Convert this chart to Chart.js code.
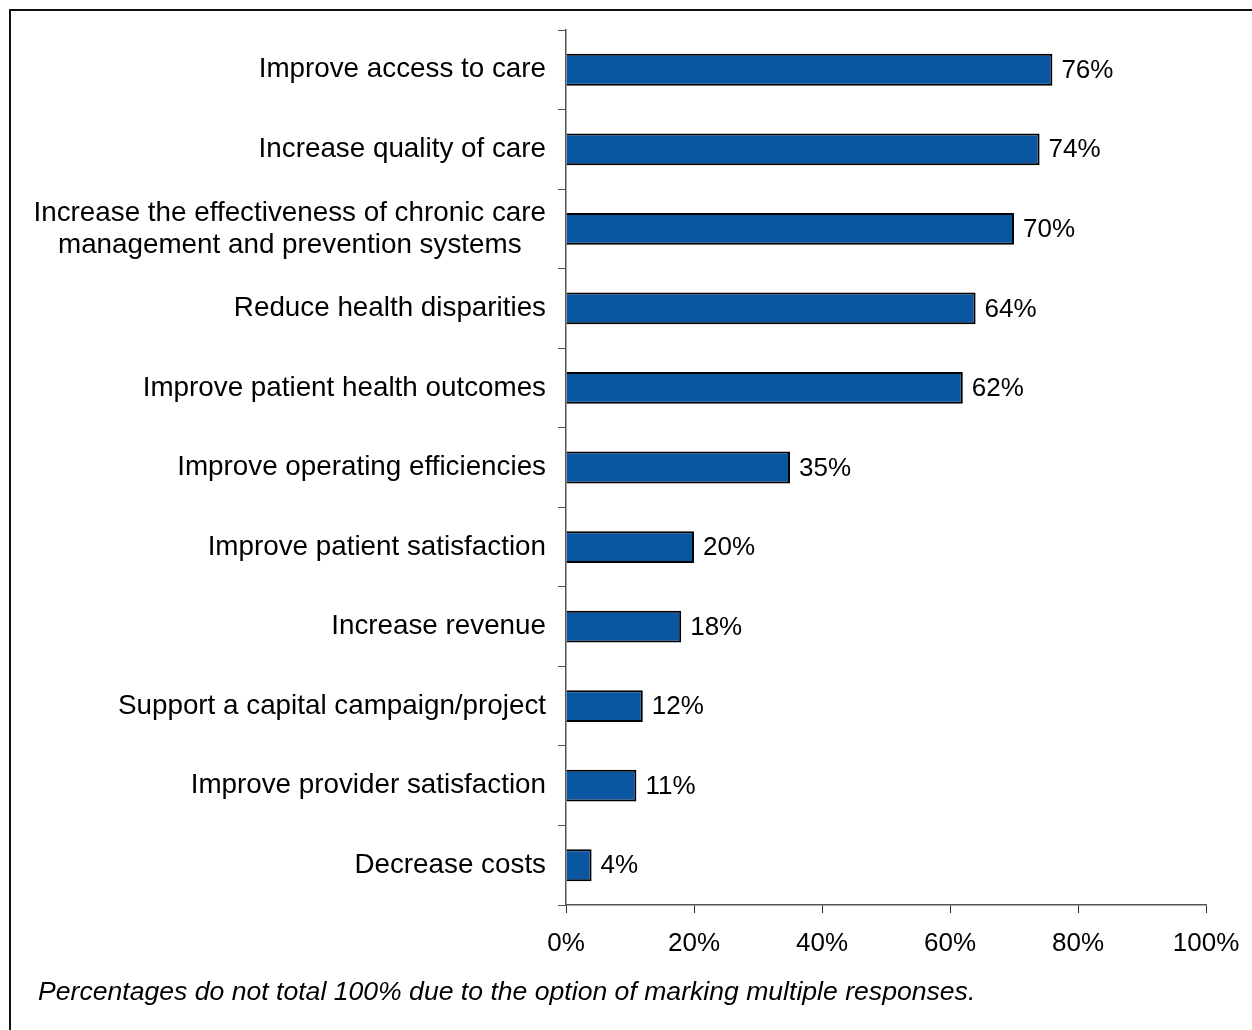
<!DOCTYPE html>
<meta charset="utf-8">
<style>
	body { margin: 0; background: #fff; overflow: hidden; }
	#frame { position: absolute; left: 9px; top: 9px; width: 1300px; height: 1100px; border: 2px solid #111; }
	#wrap { position: absolute; left: 0; top: 0; width: 1252px; height: 1030px; }
	#note { position: absolute; left: 38px; top: 976px; font: italic 26.6px "Liberation Sans", Arial, sans-serif; color: #000; white-space: nowrap; }
</style>
<body>

	<script src="https://cdn.jsdelivr.net/npm/chart.js@4/dist/chart.umd.min.js"></script>

	<div id="frame"></div>
	<div id="wrap">
		<canvas id="goalsChart"></canvas>
	</div>
	<div id="note">Percentages do not total 100% due to the option of marking multiple responses.</div>

	<script>
		var categories = [
			"Improve access to care",
			"Increase quality of care",
			["Increase the effectiveness of chronic care", "management and prevention systems"],
			"Reduce health disparities",
			"Improve patient health outcomes",
			"Improve operating efficiencies",
			"Improve patient satisfaction",
			"Increase revenue",
			"Support a capital campaign/project",
			"Improve provider satisfaction",
			"Decrease costs"
		];
		var percents = [76, 74, 70, 64, 62, 35, 20, 18, 12, 11, 4];
		var xTicks = [0, 20, 40, 60, 80, 100];

		var FONT = '"Liberation Sans", Arial, sans-serif';

		// category labels (multi-line ones centred on each other) and value labels
		var textPlugin = {
			id: 'textPlugin',
			afterDraw: function(chart) {
				var ctx = chart.ctx;
				var yScale = chart.scales.y;
				ctx.save();
				ctx.fillStyle = '#000';
				ctx.textBaseline = 'middle';

				ctx.font = '27.8px ' + FONT;
				var right = yScale.right - 20;
				categories.forEach(function(label, i) {
					var y = yScale.getPixelForValue(i);
					if (Array.isArray(label)) {
						var w = Math.max.apply(null, label.map(function(l) { return ctx.measureText(l).width; }));
						var cx = right - w / 2;
						ctx.textAlign = 'center';
						var lh = 32;
						label.forEach(function(l, j) {
							ctx.fillText(l, cx, y + (j - (label.length - 1) / 2) * lh);
						});
					} else {
						ctx.textAlign = 'right';
						ctx.fillText(label, right, y);
					}
				});

				ctx.font = '26px ' + FONT;
				ctx.textAlign = 'left';
				var meta = chart.getDatasetMeta(0);
				meta.data.forEach(function(bar, i) {
					ctx.fillText(percents[i] + '%', bar.x + 9, bar.y + 1);
				});
				ctx.restore();
			}
		};

		var ctx = document.getElementById("goalsChart");
		var myChart = new Chart(ctx, {
			type: 'bar',
			data: {
				labels: categories,
				datasets: [{
					data: percents,
					backgroundColor: '#0B56A1',
					borderColor: '#000',
					borderWidth: 2,
					barPercentage: 0.4,
					categoryPercentage: 1
				}]
			},
			options: {
				indexAxis: 'y',
				responsive: true,
				maintainAspectRatio: false,
				animation: false,
				layout: { padding: { top: 30, right: 46, bottom: 0, left: 0 } },
				plugins: {
					legend: { display: false },
					tooltip: { enabled: false }
				},
				scales: {
					x: {
						min: 0,
						max: 100,
						afterBuildTicks: function(scale) {
							scale.ticks = xTicks.map(function(v) { return { value: v }; });
						},
						afterFit: function(scale) {
							scale.height = 125;
							scale.paddingLeft = 0;
							scale.paddingRight = 0;
						},
						grid: { drawOnChartArea: false, drawTicks: true, tickLength: 8, color: '#333' },
						border: { color: '#555', width: 1.5 },
						ticks: {
							color: '#000',
							font: { family: FONT, size: 26 },
							padding: 15,
							maxRotation: 0,
							callback: function(v) { return v + '%'; }
						}
					},
					y: {
						afterFit: function(scale) { scale.width = 566; },
						grid: { drawOnChartArea: false, drawTicks: true, tickLength: 8, color: '#555', offset: true },
						border: { color: '#555', width: 1.5 },
						ticks: { display: false }
					}
				}
			},
			plugins: [textPlugin]
		});
	</script>
</body>
